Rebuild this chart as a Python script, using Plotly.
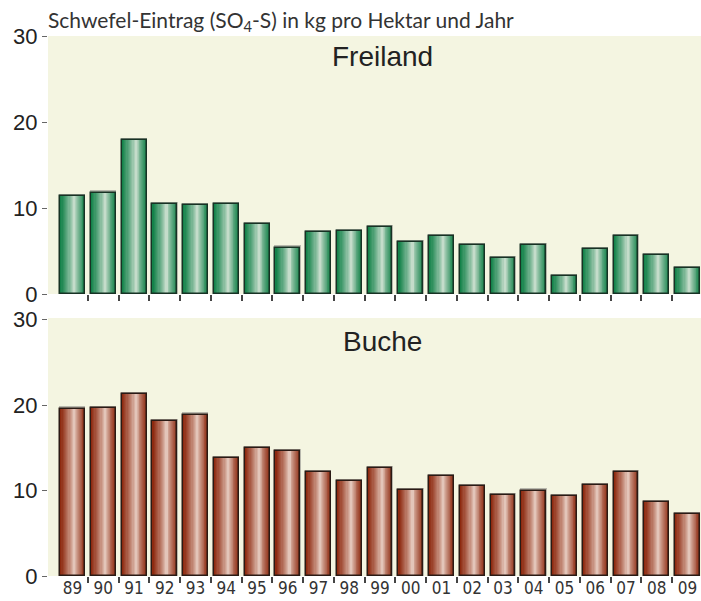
import plotly.graph_objects as go

years = ["89", "90", "91", "92", "93", "94", "95", "96", "97", "98", "99",
         "00", "01", "02", "03", "04", "05", "06", "07", "08", "09"]
freiland = [11.4, 11.8, 17.9, 10.5, 10.3, 10.5, 8.1, 5.4, 7.2, 7.3, 7.8,
            6.0, 6.7, 5.7, 4.2, 5.7, 2.1, 5.2, 6.7, 4.5, 3.0]
buche = [19.6, 19.7, 21.3, 18.1, 18.9, 13.8, 15.0, 14.6, 12.2, 11.1, 12.6,
         10.1, 11.7, 10.5, 9.5, 10.0, 9.4, 10.6, 12.2, 8.7, 7.3]
y_ticks = [0, 10, 20, 30]

title_text = "Schwefel-Eintrag (SO<sub>4</sub>-S) in kg pro Hektar und Jahr"
panel_titles = ["Freiland", "Buche"]

BG = "#f4f5e1"
W = 0.81
N = 12
xpos = list(range(len(years)))


def hex2rgb(h):
    h = h.lstrip("#")
    return tuple(int(h[i:i + 2], 16) for i in (0, 2, 4))


def lerp(c1, c2, t):
    a, b = hex2rgb(c1), hex2rgb(c2)
    return "rgb(%d,%d,%d)" % tuple(round(a[i] + (b[i] - a[i]) * t) for i in range(3))


def gradient_bars(values, edge, center, outline, xa, ya):
    traces = []
    # soft shadow behind the bar
    traces.append(go.Bar(
        x=xpos, y=[v + 0.25 for v in values], width=W + 0.04, offset=-W / 2 - 0.03,
        marker=dict(color="rgba(110,110,110,0.45)", line=dict(width=0)),
        xaxis=xa, yaxis=ya, hoverinfo="skip", showlegend=False))
    for k in range(N):
        frac = 1 - k / N
        w = W * frac
        col = lerp(center, edge, frac ** 0.75)
        shift = (1 - frac) * 0.06
        traces.append(go.Bar(
            x=xpos, y=values, width=w, offset=-w / 2 + shift,
            marker=dict(color=col, line=dict(width=0)),
            xaxis=xa, yaxis=ya, hoverinfo="skip", showlegend=False))
    traces.append(go.Bar(
        x=xpos, y=values, width=W, offset=-W / 2,
        marker=dict(color="rgba(0,0,0,0)", line=dict(width=1.5, color=outline)),
        xaxis=xa, yaxis=ya, showlegend=False))
    return traces


fig = go.Figure()
for t in gradient_bars(freiland, "#14824a", "#e4ece2", "#173224", "x", "y"):
    fig.add_trace(t)
for t in gradient_bars(buche, "#8e2a10", "#f3e2d8", "#2a1a14", "x2", "y2"):
    fig.add_trace(t)

H = 601.0
xdom = [48 / 701, 1]
yaxis_common = dict(
    tickvals=y_ticks, ticks="outside", ticklen=5, tickwidth=1, tickcolor="#666",
    tickfont=dict(family="Liberation Sans, Arial, sans-serif", size=22, color="#222"),
    showgrid=False, zeroline=False, showline=False, fixedrange=True, automargin=False,
)
xaxis_common = dict(
    domain=xdom, range=[-0.8, 20.44], tickvals=xpos, ticktext=years,
    ticks="", showgrid=False, zeroline=False, showline=False, automargin=False,
    minor=dict(tickmode="array", tickvals=[i + 0.5 for i in xpos[:-1]],
               ticks="outside", ticklen=6, tickwidth=1.5, tickcolor="#444"),
    tickfont=dict(family="Liberation Sans Narrow, DejaVu Sans Condensed, sans-serif",
                  size=17, color="#333"),
)

fig.update_layout(
    width=701, height=601,
    margin=dict(l=0, r=0, t=0, b=0),
    paper_bgcolor="white", plot_bgcolor=BG,
    barmode="overlay", bargap=0,
    xaxis=dict(**xaxis_common, anchor="y", showticklabels=False),
    yaxis=dict(**yaxis_common, domain=[(H - 294) / H, (H - 36) / H], range=[0, 30]),
    xaxis2=dict(**xaxis_common, anchor="y2", showticklabels=True),
    yaxis2=dict(**yaxis_common, domain=[(H - 576) / H, (H - 318) / H], range=[0, 30.2]),
    annotations=[
        dict(text=title_text, xref="paper", yref="paper", x=46 / 701, y=1 - 21 / H,
             xanchor="left", yanchor="middle", showarrow=False,
             font=dict(family="Lato, Open Sans, sans-serif", size=21, color="#333")),
        dict(text=panel_titles[0], xref="x", yref="y", x=10.07, y=27.6,
             xanchor="center", yanchor="middle", showarrow=False,
             font=dict(family="Liberation Sans, Arial, sans-serif", size=28, color="#222")),
        dict(text=panel_titles[1], xref="x2", yref="y2", x=10.07, y=27.45,
             xanchor="center", yanchor="middle", showarrow=False,
             font=dict(family="Liberation Sans, Arial, sans-serif", size=28, color="#222")),
    ],
)

fig.write_html(
    "out.html",
    config={"displayModeBar": False},
    post_script="document.body.style.margin='0';document.documentElement.style.overflow='hidden';",
)
